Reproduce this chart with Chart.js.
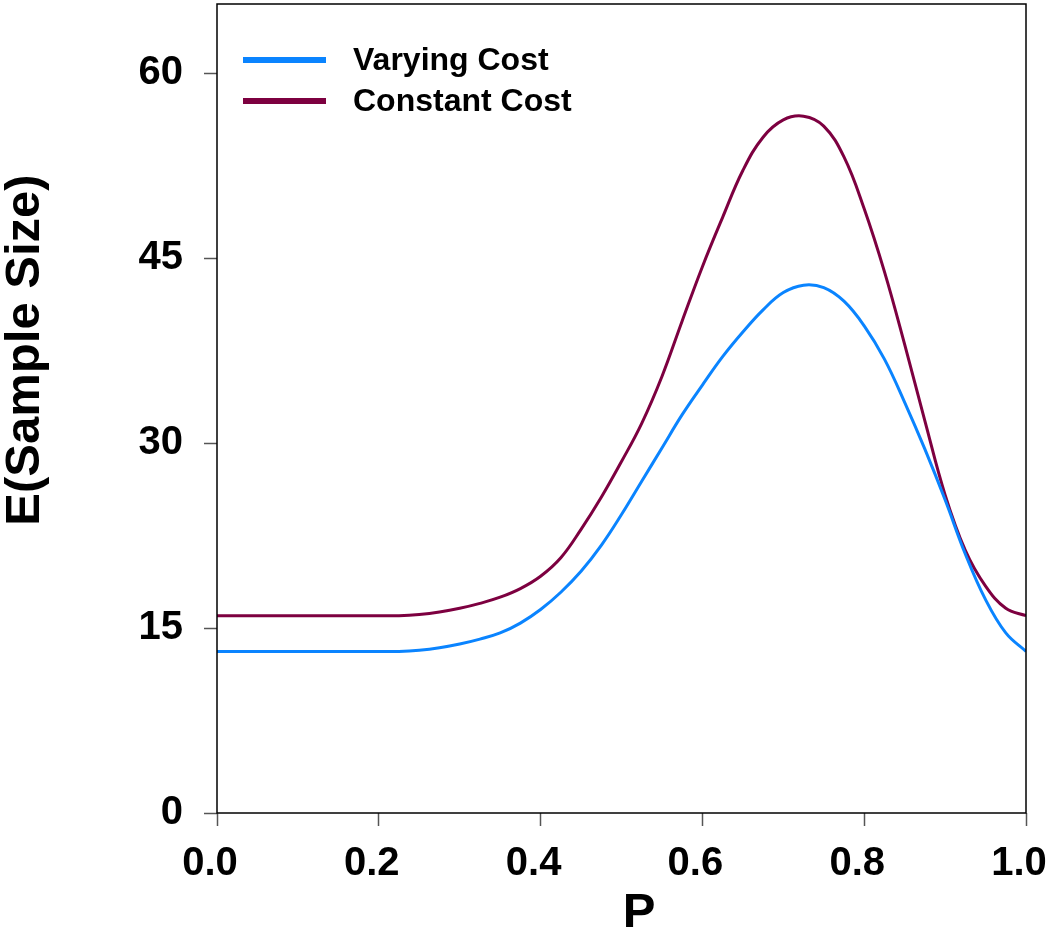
<!DOCTYPE html>
<html>
<head>
<meta charset="utf-8">
<script src="https://cdn.jsdelivr.net/npm/chart.js@4.4.1/dist/chart.umd.min.js"></script>
<style>
  html, body { margin: 0; padding: 0; background: #fff; }
  #wrap { width: 1047px; height: 933px; }
</style>
</head>
<body>
<div id="wrap"><canvas id="chart" width="1047" height="933"></canvas></div>
<script>
const pValues = [
  0, 0.025, 0.05, 0.075, 0.1, 0.125, 0.15, 0.175, 0.2, 0.225,
  0.25, 0.275, 0.3, 0.325, 0.35, 0.375, 0.4, 0.425, 0.45, 0.475,
  0.5, 0.525, 0.55, 0.575, 0.6, 0.625, 0.65, 0.675, 0.7, 0.725,
  0.75, 0.775, 0.8, 0.825, 0.85, 0.875, 0.9, 0.925, 0.95, 0.975, 1.0,
];
const varyingCost = [
  13.1, 13.1, 13.1, 13.1, 13.1, 13.1, 13.1, 13.1, 13.1, 13.1,
  13.2, 13.4, 13.7, 14.1, 14.6, 15.4, 16.5, 17.9, 19.6, 21.7,
  24.2, 26.9, 29.6, 32.3, 34.7, 37.0, 39.0, 40.8, 42.2, 42.8,
  42.6, 41.5, 39.5, 36.8, 33.3, 29.5, 25.4, 21.0, 17.3, 14.6, 13.1,
];
const constantCost = [
  16.0, 16.0, 16.0, 16.0, 16.0, 16.0, 16.0, 16.0, 16.0, 16.0,
  16.1, 16.3, 16.6, 17.0, 17.5, 18.2, 19.2, 20.7, 23.0, 25.6,
  28.5, 31.6, 35.4, 39.9, 44.3, 48.3, 52.1, 54.8, 56.2, 56.5,
  55.7, 53.2, 49.0, 43.9, 38.0, 31.8, 25.8, 21.3, 18.4, 16.6, 16.0,
];
const yTicks = [0, 15, 30, 45, 60];
const xTicks = [0, 0.2, 0.4, 0.6, 0.8, 1.0];
const seriesLabels = ['Varying Cost', 'Constant Cost'];
const seriesColors = ['#0a84ff', '#7d0040'];
const xTitle = 'P';
const yTitle = 'E(Sample Size)';

const fontFamily = '"Liberation Sans", Arial, sans-serif';
const toPoints = (values) => values.map((v, i) => ({ x: pValues[i], y: v }));

// frame round the plot, the legend in the upper left corner and the axis titles
const framePlugin = {
  id: 'frame',
  afterDraw(chart) {
    const { ctx, chartArea: a } = chart;
    ctx.save();
    ctx.strokeStyle = '#000';
    ctx.lineWidth = 1.5;
    ctx.strokeRect(a.left, a.top, a.right - a.left, a.bottom - a.top);

    ctx.font = `bold 32px ${fontFamily}`;
    ctx.textBaseline = 'middle';
    ctx.textAlign = 'left';
    chart.data.datasets.forEach((ds, i) => {
      const y = a.top + 56 + i * 41;
      ctx.strokeStyle = ds.borderColor;
      ctx.lineWidth = 6;
      ctx.lineCap = 'butt';
      ctx.beginPath();
      ctx.moveTo(a.left + 26, y);
      ctx.lineTo(a.left + 109, y);
      ctx.stroke();
      ctx.fillStyle = '#000';
      ctx.fillText(ds.label, a.left + 136, y + 1);
    });

    ctx.font = `bold 49px ${fontFamily}`;
    ctx.textAlign = 'center';
    ctx.fillText(xTitle, a.left + 422, 913);
    ctx.translate(25, 350);
    ctx.rotate(-Math.PI / 2);
    ctx.fillText(yTitle, 0, 0);
    ctx.restore();
  },
};

const tickFont = { family: fontFamily, size: 40, weight: 'bold' };

new Chart(document.getElementById('chart'), {
  type: 'line',
  data: {
    datasets: [
      {
        label: seriesLabels[0],
        data: toPoints(varyingCost),
        borderColor: seriesColors[0],
        borderWidth: 3,
        pointRadius: 0,
        tension: 0.4,
        fill: false,
      },
      {
        label: seriesLabels[1],
        data: toPoints(constantCost),
        borderColor: seriesColors[1],
        borderWidth: 3,
        pointRadius: 0,
        tension: 0.4,
        fill: false,
      },
    ],
  },
  options: {
    responsive: false,
    animation: false,
    layout: { padding: { left: 0, right: 21, top: 4, bottom: 0 } },
    plugins: {
      legend: { display: false },
      tooltip: { enabled: false },
    },
    scales: {
      x: {
        type: 'linear',
        min: 0,
        max: 1,
        afterFit: (scale) => {
          scale.height = 120;
          scale.paddingLeft = 0;
          scale.paddingRight = 0;
        },
        afterBuildTicks: (scale) => { scale.ticks = xTicks.map((v) => ({ value: v })); },
        border: { display: false },
        grid: { drawOnChartArea: false, tickLength: 13, color: '#555', tickWidth: 1.5 },
        ticks: {
          color: '#000',
          font: tickFont,
          padding: 14,
          labelOffset: -7,
          maxRotation: 0,
          callback: (v) => Number(v).toFixed(1),
        },
      },
      y: {
        type: 'linear',
        min: 0,
        max: 65.6,
        afterFit: (scale) => {
          scale.width = 217;
          scale.paddingTop = 0;
          scale.paddingBottom = 0;
        },
        afterBuildTicks: (scale) => { scale.ticks = yTicks.map((v) => ({ value: v })); },
        border: { display: false },
        grid: { drawOnChartArea: false, tickLength: 13, color: '#555', tickWidth: 1.5 },
        ticks: { color: '#000', font: tickFont, padding: 21 },
      },
    },
  },
  plugins: [framePlugin],
});
</script>
</body>
</html>
